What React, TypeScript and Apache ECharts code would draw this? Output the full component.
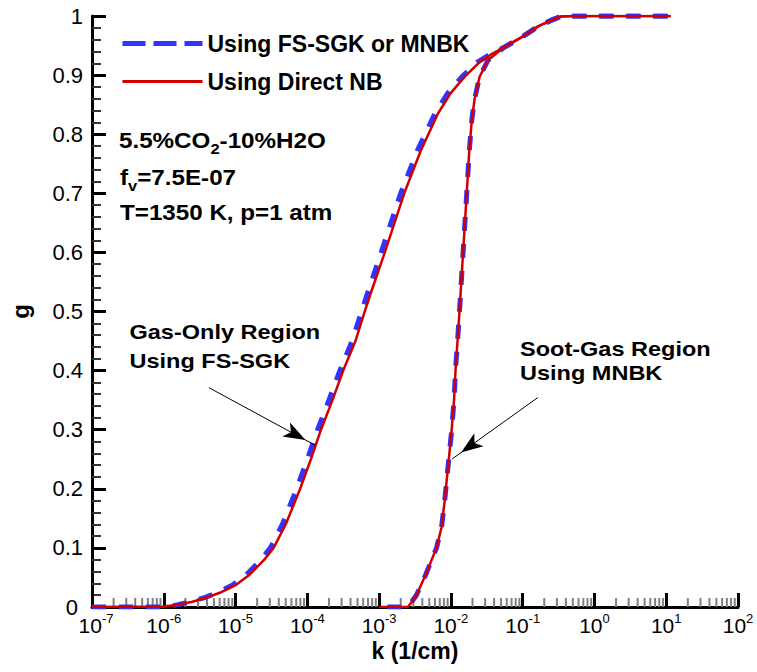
import React, { useEffect, useRef } from "react";
import * as echarts from "echarts";

// ---- data (k in 1/cm, g cumulative) ----
const blueGasK = [1e-7, 1e-6, 1.3e-6, 1.58e-6, 2.4e-6, 3.7e-6, 5.8e-6, 9e-6, 1.42e-5, 2.26e-5, 3.05e-5, 4.5e-5, 7.1e-5, 1.0e-4, 1.39e-4, 2.0e-4, 2.84e-4, 4.2e-4, 5.7e-4, 6.85e-4, 1.07e-3, 2.0e-3, 3.4e-3, 6.0e-3, 9.1e-3, 1.42e-2, 2.35e-2, 3.5e-2, 5.5e-2, 0.1, 0.162, 0.251, 0.339, 0.5, 11.5];
const blueGasG = [0, 0, 0.002, 0.004, 0.009, 0.016, 0.025, 0.037, 0.055, 0.08, 0.1, 0.14, 0.2, 0.25, 0.3, 0.35, 0.4, 0.45, 0.5, 0.53, 0.6, 0.7, 0.772, 0.835, 0.87, 0.897, 0.922, 0.935, 0.947, 0.965, 0.982, 0.993, 0.999, 1.0, 1.0];

const redGasK = [1e-7, 1e-6, 1.58e-6, 2.51e-6, 3.98e-6, 6.31e-6, 1e-5, 1.58e-5, 2.51e-5, 3.39e-5, 5.01e-5, 7.94e-5, 1.12e-4, 1.55e-4, 2.24e-4, 3.16e-4, 4.68e-4, 6.3e-4, 7.6e-4, 1.2e-3, 2.24e-3, 3.8e-3, 6.61e-3, 1e-2, 1.55e-2, 2.51e-2, 3.63e-2, 5.5e-2, 0.1, 0.162, 0.251, 0.339, 0.5, 11.5];
const redGasG = [0, 0.001, 0.004, 0.009, 0.016, 0.025, 0.037, 0.055, 0.08, 0.1, 0.14, 0.2, 0.25, 0.3, 0.35, 0.4, 0.45, 0.5, 0.53, 0.6, 0.7, 0.772, 0.835, 0.87, 0.897, 0.922, 0.935, 0.947, 0.965, 0.982, 0.993, 0.999, 1.0, 1.0];

const blueSootK = [1.3e-3, 2.5e-3, 2.63e-3, 3.31e-3, 4.47e-3, 5.37e-3, 6.31e-3, 7.41e-3, 8.2e-3, 9.12e-3, 1.016e-2, 1.107e-2, 1.167e-2, 1.259e-2, 1.349e-2, 1.479e-2, 1.64e-2, 1.8e-2, 1.96e-2, 2.143e-2, 2.51e-2, 3.28e-2, 5.5e-2, 0.1, 0.162, 0.251, 0.339, 0.5, 11.5];
const blueSootG = [0, 0, 0.003, 0.02, 0.055, 0.079, 0.1, 0.135, 0.18, 0.237, 0.294, 0.35, 0.406, 0.463, 0.52, 0.6, 0.688, 0.77, 0.825, 0.86, 0.897, 0.925, 0.947, 0.965, 0.982, 0.993, 0.999, 1.0, 1.0];

const redSootK = [1e-3, 2.5e-3, 2.63e-3, 3.31e-3, 4.47e-3, 5.37e-3, 6.31e-3, 7.41e-3, 8.2e-3, 9.12e-3, 1.016e-2, 1.107e-2, 1.167e-2, 1.259e-2, 1.349e-2, 1.479e-2, 1.64e-2, 1.8e-2, 1.96e-2, 2.143e-2, 2.51e-2, 3.28e-2, 5.5e-2, 0.1, 0.162, 0.251, 0.339, 0.5, 11.5];
const redSootG = [0, 0, 0.003, 0.02, 0.055, 0.079, 0.1, 0.135, 0.18, 0.237, 0.294, 0.35, 0.406, 0.463, 0.52, 0.6, 0.688, 0.77, 0.825, 0.86, 0.897, 0.925, 0.947, 0.965, 0.982, 0.993, 0.999, 1.0, 1.0];

// annotation arrows: [start k, start g, tip k, tip g]
const gasArrow = [4.27e-6, 0.371, 1.285e-4, 0.2737];
const sootArrow = [0.1626, 0.3544, 1.04e-2, 0.2505];

// axis ticks
const xMin = 1e-7;
const xMax = 1e2;
const minorMantissas = [2, 3, 4, 5, 6, 7, 8, 9];
const decadeExponents = [-7, -6, -5, -4, -3, -2, -1, 0, 1];

const BLUE_NAME = "Using FS-SGK or MNBK";
const RED_NAME = "Using Direct NB";
const BLUE = "#3333ff";
const RED = "#d10000";
const FONT = "'Liberation Sans', Arial, Helvetica, sans-serif";

const zip = (k: number[], g: number[]) => k.map((v, i) => [v, g[i]]);

export default function App() {
  const ref = useRef<HTMLDivElement>(null);
  useEffect(() => {
    if (!ref.current) return;
    const chart = echarts.init(ref.current, null, { renderer: "svg" });
    const minorTicks: number[][] = [];
    decadeExponents.forEach((e) => minorMantissas.forEach((m) => minorTicks.push([m * Math.pow(10, e), 0])));

    const blueLine = { color: BLUE, width: 5, type: [14, 13], cap: "butt" };
    const redLine = { color: RED, width: 2.5, type: "solid" };

    const infoRich = {
      m: { fontSize: 22, fontWeight: "bold", fontFamily: FONT, color: "#000", lineHeight: 30 },
      s: { fontSize: 15, fontWeight: "bold", fontFamily: FONT, color: "#000", lineHeight: 30, verticalAlign: "top", padding: [16, 0, 0, 0] },
    };

    const lineSeries = (name: string, data: number[][], ls: any, color: string, z: number) => ({
      name, type: "line", data, symbol: "none", showSymbol: false, smooth: false,
      lineStyle: ls, itemStyle: { color }, z, silent: true,
    });

    const option: any = {
      animation: false,
      textStyle: { fontFamily: FONT },
      grid: { left: 89, right: 19, top: 16, bottom: 65, containLabel: false },
      legend: {
        orient: "vertical",
        left: 115,
        top: 27,
        itemWidth: 80,
        itemHeight: 14,
        itemGap: 15,
        selectedMode: false,
        textStyle: { fontSize: 23, fontWeight: "bold", color: "#000", fontFamily: FONT },
        data: [
          { name: BLUE_NAME, itemStyle: { opacity: 0 }, lineStyle: { color: BLUE, width: 5, type: [23, 8] } },
          { name: RED_NAME, itemStyle: { opacity: 0 }, lineStyle: { color: RED, width: 3, type: "solid" } },
        ],
      },
      xAxis: {
        type: "log",
        logBase: 10,
        min: xMin,
        max: xMax,
        interval: 1,
        name: "k (1/cm)",
        nameLocation: "middle",
        nameGap: 32,
        nameMoveOverlap: false,
        nameTextStyle: { fontSize: 23, fontWeight: "bold", color: "#000", fontFamily: FONT },
        axisLine: { show: true, onZero: false, lineStyle: { color: "#000", width: 3 } },
        axisTick: { show: true, inside: true, length: 14, lineStyle: { color: "#000", width: 3 } },
        splitLine: { show: false },
        axisLabel: {
          margin: 5,
          color: "#000",
          formatter: (v: number) => {
            const e = Math.round(Math.log10(v));
            return v <= xMin * 1.0001 ? `{bl|10}{s|${e}}` : `{b|10}{s|${e}}`;
          },
          rich: {
            b: { fontSize: 21, fontFamily: FONT, color: "#000", lineHeight: 26 },
            bl: { fontSize: 21, fontFamily: FONT, color: "#000", lineHeight: 26, padding: [0, 0, 0, 8] },
            s: { fontSize: 13, fontFamily: FONT, color: "#000", lineHeight: 26, verticalAlign: "top" },
          },
        },
      },
      yAxis: {
        type: "value",
        min: 0,
        max: 1,
        interval: 0.1,
        name: "g",
        nameLocation: "middle",
        nameGap: 60,
        nameTextStyle: { fontSize: 24, fontWeight: "bold", color: "#000", fontFamily: FONT },
        axisLine: { show: true, lineStyle: { color: "#000", width: 3 } },
        axisTick: { show: true, inside: true, length: 14, lineStyle: { color: "#000", width: 3 } },
        minorTick: { show: true, splitNumber: 5, length: 9, lineStyle: { color: "#333", width: 2 } },
        splitLine: { show: false },
        axisLabel: {
          margin: 9,
          color: "#000",
          formatter: (v: number) => (v === 0 ? "{z|0}" : `{n|${v}}`),
          rich: {
            n: { fontSize: 22, fontFamily: FONT, color: "#000", lineHeight: 12 },
            z: { fontSize: 22, fontFamily: FONT, color: "#000", lineHeight: 12, padding: [0, 5, 0, 0] },
          },
        },
      },
      series: [
        lineSeries(BLUE_NAME, zip(blueGasK, blueGasG), blueLine, BLUE, 2),
        lineSeries(BLUE_NAME, zip(blueSootK, blueSootG), blueLine, BLUE, 2),
        {
          ...lineSeries(RED_NAME, zip(redGasK, redGasG), redLine, RED, 3),
          markLine: {
            silent: true,
            symbol: ["none", "arrow"],
            symbolSize: [12, 22],
            symbolOffset: [[0, 0], [0, 11]],
            label: { show: false },
            emphasis: { disabled: true },
            lineStyle: { color: "#000", width: 1, type: "solid" },
            data: [
              [{ coord: [gasArrow[0], gasArrow[1]] }, { coord: [gasArrow[2], gasArrow[3]] }],
              [{ coord: [sootArrow[0], sootArrow[1]] }, { coord: [sootArrow[2], sootArrow[3]] }],
            ],
          },
        },
        lineSeries(RED_NAME, zip(redSootK, redSootG), redLine, RED, 3),
        {
          type: "custom",
          silent: true,
          data: minorTicks,
          encode: { x: 0, y: 1 },
          z: 1,
          renderItem: (_p: any, api: any) => {
            const pt = api.coord([api.value(0), 0]);
            return {
              type: "line",
              shape: { x1: pt[0], y1: pt[1], x2: pt[0], y2: pt[1] - 9 },
              style: { stroke: "#808080", lineWidth: 2 },
            };
          },
        },
      ],
      graphic: [
        { type: "text", x: 119, y: 125.7, scaleX: 1.1, style: { text: "{m|5.5%CO}{s|2}{m|-10%H2O}", rich: infoRich, verticalAlign: "top" } },
        { type: "text", x: 120, y: 162.4, scaleX: 1.1, style: { text: "{m|f}{s|v}{m|=7.5E-07}", rich: infoRich, verticalAlign: "top" } },
        { type: "text", x: 120, y: 197.7, scaleX: 1.1, style: { text: "{m|T=1350 K, p=1 atm}", rich: infoRich, verticalAlign: "top" } },
        { type: "text", x: 129.5, y: 331.7, scaleX: 1.12, style: { text: "Gas-Only Region", fontSize: 21, fontWeight: "bold", fontFamily: FONT, fill: "#000", verticalAlign: "middle" } },
        { type: "text", x: 129.5, y: 361, scaleX: 1.12, style: { text: "Using FS-SGK", fontSize: 21, fontWeight: "bold", fontFamily: FONT, fill: "#000", verticalAlign: "middle" } },
        { type: "text", x: 520, y: 349.4, scaleX: 1.12, style: { text: "Soot-Gas Region", fontSize: 21, fontWeight: "bold", fontFamily: FONT, fill: "#000", verticalAlign: "middle" } },
        { type: "text", x: 520, y: 372.7, scaleX: 1.12, style: { text: "Using MNBK", fontSize: 21, fontWeight: "bold", fontFamily: FONT, fill: "#000", verticalAlign: "middle" } },
      ],
    };
    chart.setOption(option);
    return () => chart.dispose();
  }, []);
  return <div ref={ref} style={{ position: "absolute", left: 0, top: 0, width: 757, height: 672, background: "#fff" }} />;
}
